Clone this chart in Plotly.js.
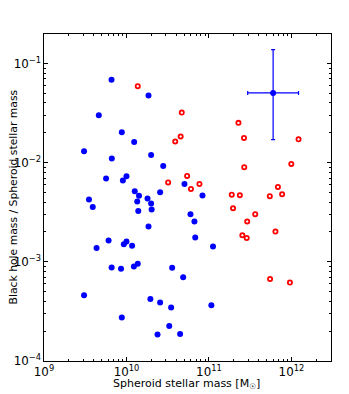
<!DOCTYPE html>
<html>
<head>
<meta charset="utf-8">
<script src="https://cdn.plot.ly/plotly-3.0.1.min.js"></script>
<style>html,body{margin:0;padding:0;background:#fff}#chart{width:349px;height:394px}</style>
</head>
<body>
<div id="chart"></div>
<script>
// Blue filled points: spheroid stellar mass [Msun], BH mass / spheroid stellar mass
const blueMass = [6.59e9, 1.85e10, 4.62e9, 8.78e9, 1.24e10, 3.06e9, 1.99e10, 6.64e9, 2.79e10, 5.66e9,
  1.0e10, 9.04e9, 1.26e10, 1.42e10, 2.56e10, 1.80e10, 1.35e10, 1.99e10, 3.51e9, 3.90e9,
  1.39e10, 2.02e10, 5.05e10, 8.35e10, 5.97e10, 6.67e10, 6.82e10, 1.12e11, 1.85e10, 6.07e9,
  4.34e9, 1.0e10, 9.29e9, 1.17e10, 6.61e9, 8.59e9, 1.23e10, 1.37e10, 3.58e10, 4.87e10,
  3.06e9, 1.95e10, 2.56e10, 3.48e10, 1.07e11, 8.78e9, 3.30e10, 2.38e10, 4.47e10];
const blueRatio = [0.0684, 0.0475, 0.0301, 0.0203, 0.0161, 0.0130, 0.01197, 0.0110, 0.00927, 0.00692,
  0.00730, 0.00662, 0.00515, 0.00464, 0.00503, 0.00436, 0.00405, 0.00387, 0.00425, 0.00358,
  0.00325, 0.00337, 0.0061, 0.00466, 0.00302, 0.00255, 0.00176, 0.00143, 0.00227, 0.00164,
  0.00138, 0.00160, 0.00150, 0.00145, 0.000875, 0.000851, 0.000896, 0.000956, 0.000871, 0.000699,
  0.000460, 0.000422, 0.000388, 0.000346, 0.000365, 0.000274, 0.000225, 0.000185, 0.000187];

// Red open points
const redMass = [1.37e10, 4.68e10, 2.28e11, 4.54e10, 3.90e10, 2.66e11, 1.22e12, 2.68e11, 9.97e11, 5.44e10,
  3.20e10, 7.67e10, 6.05e10, 6.86e11, 1.89e11, 2.37e11, 5.47e11, 7.71e11, 1.96e11, 3.64e11,
  2.91e11, 2.54e11, 2.87e11, 6.40e11, 5.51e11, 9.59e11];
const redRatio = [0.0590, 0.0320, 0.0252, 0.01835, 0.01633, 0.01776, 0.0172, 0.0090, 0.00971, 0.00735,
  0.00631, 0.0061, 0.00543, 0.00569, 0.00475, 0.00469, 0.00459, 0.00480, 0.00347, 0.00302,
  0.00255, 0.001853, 0.00174, 0.00202, 0.000671, 0.000618];

// Representative point with error bars
const errMass = [6.0e11];
const errRatio = [0.0505];
const errMassPlus = [6.2e11];
const errMassMinus = [3.05e11];
const errRatioPlus = [0.0875];
const errRatioMinus = [0.0334];

// Axis titles
const xTitle = 'Spheroid stellar mass [M<sub>\u2609</sub>]';
const yTitle = 'Black hole mass / Spheroid stellar mass';

const blue = '#0000ff', red = '#ff0000';
const font = {family: 'DejaVu Sans', size: 10, color: '#000'};

const traces = [
  {x: blueMass, y: blueRatio, type: 'scatter', mode: 'markers', hoverinfo: 'skip',
   marker: {color: blue, size: 6, line: {width: 0}}},
  {x: redMass, y: redRatio, type: 'scatter', mode: 'markers', hoverinfo: 'skip',
   marker: {symbol: 'circle-open', color: red, size: 4.2, line: {color: red, width: 1.8}}},
  {x: errMass, y: errRatio, type: 'scatter', mode: 'markers', hoverinfo: 'skip',
   marker: {color: blue, size: 6},
   error_x: {type: 'data', array: errMassPlus, arrayminus: errMassMinus, color: blue, thickness: 1.2, width: 2},
   error_y: {type: 'data', array: errRatioPlus, arrayminus: errRatioMinus, color: blue, thickness: 1.2, width: 2}}
];

const axisCommon = {
  type: 'log', dtick: 1, exponentformat: 'power', showgrid: false, zeroline: false,
  showline: true, linecolor: '#000', linewidth: 1, mirror: 'allticks',
  ticks: 'inside', ticklen: 4, tickwidth: 1, tickcolor: '#000',
  minor: {ticks: 'inside', ticklen: 2, tickwidth: 1, tickcolor: '#000', showgrid: false},
  tickfont: {family: 'DejaVu Sans', size: 9.5, color: '#000'}
};

const layout = {
  width: 349, height: 394,
  margin: {l: 44.3, r: 18.3, t: 34, b: 33.3},
  paper_bgcolor: '#fff', plot_bgcolor: '#fff',
  showlegend: false, font: font,
  xaxis: Object.assign({}, axisCommon, {range: [9, 12.48]}),
  yaxis: Object.assign({}, axisCommon, {range: [-4, -0.703]}),
  annotations: [
    {text: xTitle, xref: 'paper', yref: 'paper', x: 0.498, y: -0.07, xanchor: 'center', yanchor: 'middle',
     showarrow: false, font: {family: 'DejaVu Sans', size: 11, color: '#000'}},
    {text: yTitle, xref: 'paper', yref: 'paper', x: -0.108, y: 0.5, xanchor: 'center', yanchor: 'middle',
     textangle: -90, showarrow: false, font: {family: 'DejaVu Sans', size: 10.8, color: '#000'}}
  ]
};

Plotly.newPlot('chart', traces, layout, {staticPlot: true, displayModeBar: false});
</script>
</body>
</html>
